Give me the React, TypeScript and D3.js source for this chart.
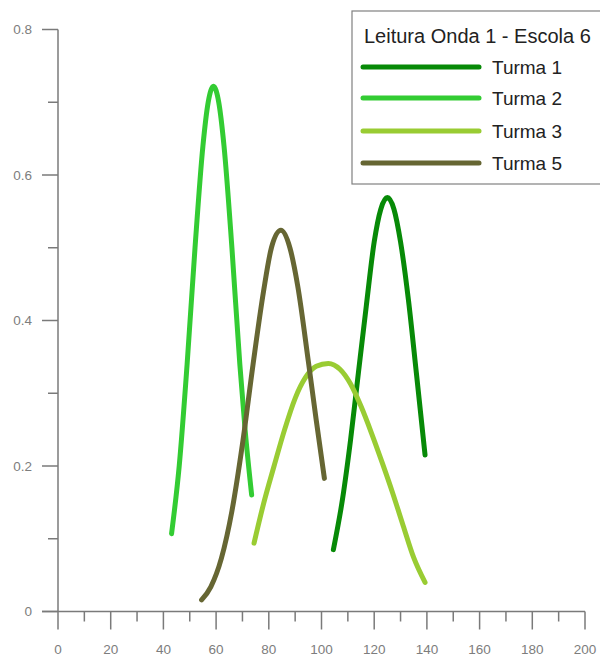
import React from "react";
import * as d3 from "d3";

// Score distributions per class (x = score, y = density)
const turma1X = [104.5, 108, 111, 114, 117, 120, 122.5, 125, 127.5, 130, 133, 136, 139.3];
const turma1Y = [0.085, 0.155, 0.235, 0.328, 0.42, 0.508, 0.553, 0.569, 0.553, 0.508, 0.428, 0.328, 0.215];

const turma2X = [43.1, 46, 49, 52, 55, 57, 59, 61, 63, 66, 69, 71, 73.5];
const turma2Y = [0.107, 0.2, 0.34, 0.5, 0.64, 0.7, 0.722, 0.7, 0.64, 0.5, 0.34, 0.25, 0.16];

const turma3X = [74.4, 78, 82, 86, 90, 94, 98, 102.6, 107, 111, 115, 119, 123, 127, 131, 135, 139.3];
const turma3Y = [0.094, 0.148, 0.2, 0.25, 0.293, 0.322, 0.337, 0.341, 0.333, 0.313, 0.282, 0.245, 0.205, 0.163, 0.118, 0.074, 0.04];

const turma5X = [54.5, 58, 62, 66, 70, 74, 78, 81, 84.6, 88, 91, 95, 98, 101.1];
const turma5Y = [0.016, 0.034, 0.073, 0.138, 0.23, 0.339, 0.44, 0.5, 0.524, 0.5, 0.447, 0.344, 0.263, 0.183];

const seriesNames = ["Turma 1", "Turma 2", "Turma 3", "Turma 5"];
const seriesColors = ["#078a07", "#33cc33", "#99cc33", "#666633"];
const legendTitle = "Leitura Onda 1 - Escola 6";

const xTicks = [0, 20, 40, 60, 80, 100, 120, 140, 160, 180, 200];
const xMinorTicks = [10, 30, 50, 70, 90, 110, 130, 150, 170, 190];
const yTicks = [0, 0.2, 0.4, 0.6, 0.8];
const yMinorTicks = [0.1, 0.3, 0.5, 0.7];

const W = 600;
const H = 663;

export default function App() {
  const x = d3.scaleLinear().domain([0, 200]).range([58, 585]);
  const y = d3.scaleLinear().domain([0, 0.8]).range([611.5, 29.5]);

  const series = [
    { xs: turma1X, ys: turma1Y },
    { xs: turma2X, ys: turma2Y },
    { xs: turma3X, ys: turma3Y },
    { xs: turma5X, ys: turma5Y },
  ];

  const line = d3
    .line<[number, number]>()
    .x((d) => x(d[0]))
    .y((d) => y(d[1]))
    .curve(d3.curveMonotoneX);

  const axisColor = "#7a7a7a";
  const labelColor = "#7d7d7d";
  const font = "'Liberation Sans', Arial, sans-serif";

  const legendX = 352;
  const legendY = 11;
  const rowY = [67, 98, 131, 163];

  return (
    <svg
      width={W}
      height={H}
      style={{ position: "absolute", left: 0, top: 0, background: "#fff" }}
    >
      <rect x={0} y={0} width={W} height={H} fill="#fff" />

      {/* y axis */}
      <line x1={x(0)} x2={x(0)} y1={y(0.8)} y2={y(0)} stroke={axisColor} strokeWidth={1.5} />
      {yTicks.map((t) => (
        <g key={"yt" + t}>
          <line x1={42} x2={x(0)} y1={y(t)} y2={y(t)} stroke={axisColor} strokeWidth={1.5} />
          <text
            x={32}
            y={y(t)}
            dy="0.35em"
            textAnchor="end"
            fontFamily={font}
            fontSize={13.5}
            fill={labelColor}
          >
            {t === 0 ? "0" : d3.format(".1f")(t)}
          </text>
        </g>
      ))}
      {yMinorTicks.map((t) => (
        <line key={"ym" + t} x1={48} x2={x(0)} y1={y(t)} y2={y(t)} stroke={axisColor} strokeWidth={1.5} />
      ))}

      {/* x axis */}
      <line x1={42} x2={x(200)} y1={y(0)} y2={y(0)} stroke={axisColor} strokeWidth={1.5} />
      {xTicks.map((t) => (
        <g key={"xt" + t}>
          <line x1={x(t)} x2={x(t)} y1={y(0)} y2={y(0) + 18} stroke={axisColor} strokeWidth={1.5} />
          <text
            x={x(t)}
            y={654}
            textAnchor="middle"
            fontFamily={font}
            fontSize={13.5}
            fill={labelColor}
          >
            {t}
          </text>
        </g>
      ))}
      {xMinorTicks.map((t) => (
        <line key={"xm" + t} x1={x(t)} x2={x(t)} y1={y(0)} y2={y(0) + 10} stroke={axisColor} strokeWidth={1.5} />
      ))}

      {/* curves */}
      {series.map((s, i) => (
        <path
          key={seriesNames[i]}
          d={line(s.xs.map((v, j) => [v, s.ys[j]] as [number, number])) || ""}
          fill="none"
          stroke={seriesColors[i]}
          strokeWidth={5}
          strokeLinecap="round"
          strokeLinejoin="round"
        />
      ))}

      {/* legend */}
      <rect
        x={legendX}
        y={legendY}
        width={W - legendX + 5}
        height={184 - legendY}
        fill="#fff"
        stroke="#808080"
        strokeWidth={1.2}
      />
      <text x={364} y={43} fontFamily={font} fontSize={20} fill="#222">
        {legendTitle}
      </text>
      {seriesNames.map((name, i) => (
        <g key={"lg" + name}>
          <line
            x1={363}
            x2={479}
            y1={rowY[i]}
            y2={rowY[i]}
            stroke={seriesColors[i]}
            strokeWidth={5}
            strokeLinecap="round"
          />
          <text
            x={492}
            y={rowY[i]}
            dy="0.36em"
            fontFamily={font}
            fontSize={19}
            fill="#222"
          >
            {name}
          </text>
        </g>
      ))}
    </svg>
  );
}
